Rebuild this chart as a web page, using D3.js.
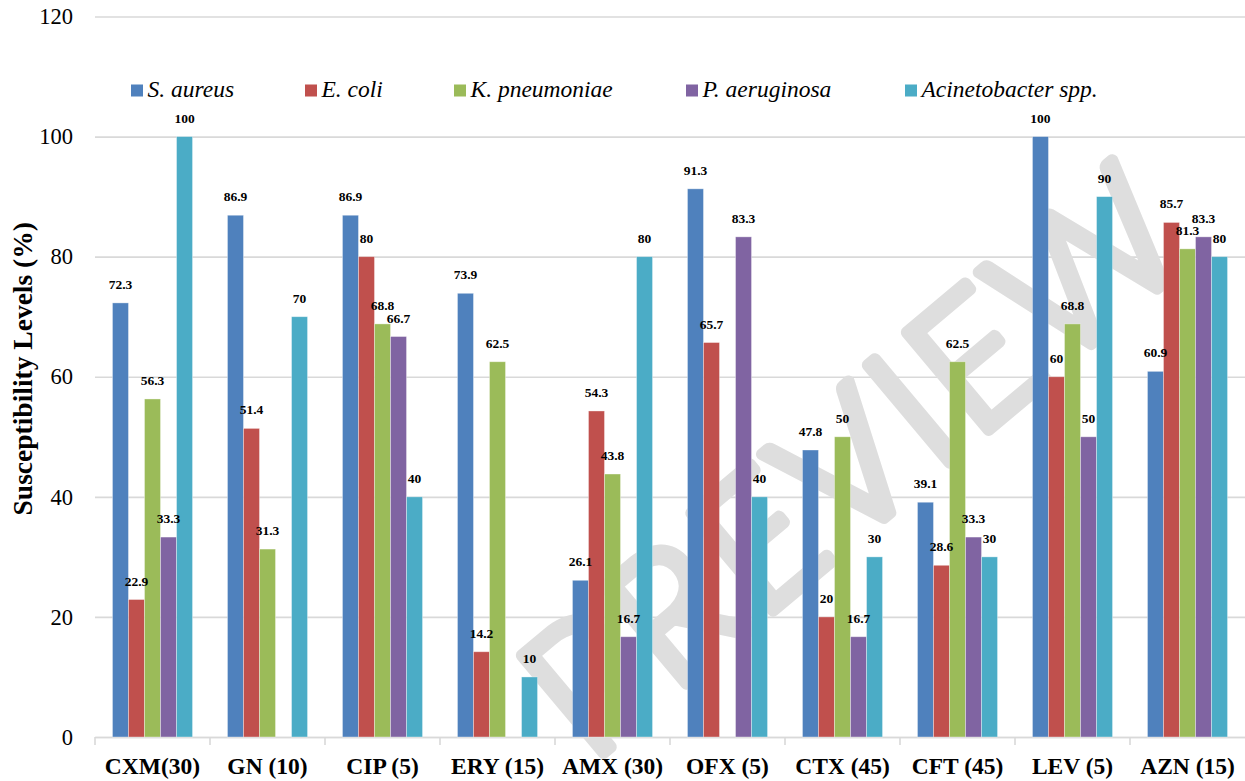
<!DOCTYPE html>
<html>
<head>
<meta charset="utf-8">
<script src="https://cdn.jsdelivr.net/npm/d3@7"></script>
<style>
  html, body { margin: 0; padding: 0; background: #ffffff; }
  svg { display: block; }
</style>
</head>
<body>
<svg id="chart" width="1245" height="781"></svg>
<script>
// Antibiotic discs (potency in µg) along the x axis
const categories = ["CXM(30)", "GN (10)", "CIP (5)", "ERY (15)", "AMX (30)",
                    "OFX (5)", "CTX (45)", "CFT (45)", "LEV (5)", "AZN (15)"];

// Organisms (legend order)
const seriesNames = ["S. aureus", "E. coli", "K. pneumoniae", "P. aeruginosa", "Acinetobacter spp."];

// Susceptibility (%) per organism; null = not tested
const sAureus       = [72.3, 86.9, 86.9, 73.9, 26.1, 91.3, 47.8, 39.1, 100, 60.9];
const eColi         = [22.9, 51.4, 80, 14.2, 54.3, 65.7, 20, 28.6, 60, 85.7];
const kPneumoniae   = [56.3, 31.3, 68.8, 62.5, 43.8, null, 50, 62.5, 68.8, 81.3];
const pAeruginosa   = [33.3, null, 66.7, null, 16.7, 83.3, 16.7, 33.3, 50, 83.3];
const acinetobacter = [100, 70, 40, 10, 80, 40, 30, 30, 90, 80];

const yTicks = [0, 20, 40, 60, 80, 100, 120];

const seriesValues = [sAureus, eColi, kPneumoniae, pAeruginosa, acinetobacter];
const colors = ["#4F81BD", "#C0504D", "#9BBB59", "#8064A2", "#4BACC6"];

const svg = d3.select("#chart");
const plotLeft = 95, plotRight = 1245, plotTop = 16.5, plotBottom = 737;

const x = d3.scaleBand().domain(categories).range([plotLeft, plotRight]).paddingInner(0).paddingOuter(0);
const xInner = d3.scaleBand().domain(seriesNames).range([0, x.bandwidth()])
  .paddingInner(0).paddingOuter(1.09);
const y = d3.scaleLinear().domain([0, 120]).range([plotBottom, plotTop]);
const color = d3.scaleOrdinal().domain(seriesNames).range(colors);

const serif = "'Liberation Serif', 'Times New Roman', Times, serif";

// Horizontal gridlines
const grid = svg.append("g")
  .attr("transform", `translate(${plotLeft},0)`)
  .call(d3.axisLeft(y).tickValues(yTicks).tickSize(-(plotRight - plotLeft)).tickFormat(""));
grid.select(".domain").remove();
grid.selectAll("line").attr("stroke", "#d9d9d9").attr("stroke-width", 1.6);

// Faint diagonal watermark lettering behind the bars
svg.append("text")
  .attr("transform", "translate(850,455) rotate(-40)")
  .attr("text-anchor", "middle")
  .attr("dominant-baseline", "central")
  .attr("font-family", "Lato, 'Open Sans', 'DejaVu Sans', sans-serif")
  .attr("font-weight", 300)
  .attr("font-size", 180)
  .attr("letter-spacing", 4)
  .attr("fill", "#dedede")
  .attr("stroke", "#dedede")
  .attr("stroke-width", 12)
  .attr("stroke-linejoin", "round")
  .text("PREVIEW");

// Y axis tick labels
const yAxis = svg.append("g")
  .attr("transform", `translate(${plotLeft},0)`)
  .call(d3.axisLeft(y).tickValues(yTicks).tickSize(0).tickPadding(22));
yAxis.select(".domain").remove();
yAxis.selectAll("text")
  .attr("font-family", serif)
  .attr("font-size", 22.5)
  .attr("fill", "#000");

// X axis: category labels and separator ticks
const xAxis = svg.append("g")
  .attr("transform", `translate(0,${plotBottom})`)
  .call(d3.axisBottom(x).tickSize(0).tickPadding(20));
xAxis.select(".domain").attr("stroke", "#d9d9d9").attr("stroke-width", 1.6);
xAxis.selectAll("text")
  .attr("font-family", serif)
  .attr("font-weight", "bold")
  .attr("font-size", 23.5)
  .attr("fill", "#000");

const boundaries = categories.map(c => x(c));
svg.append("g").selectAll("line")
  .data(boundaries)
  .join("line")
  .attr("x1", d => d).attr("x2", d => d)
  .attr("y1", plotBottom).attr("y2", plotBottom + 8)
  .attr("stroke", "#d9d9d9").attr("stroke-width", 1.6);

// Y axis title
svg.append("text")
  .attr("transform", `translate(32,${(plotTop + plotBottom) / 2 - 8}) rotate(-90)`)
  .attr("text-anchor", "middle")
  .attr("font-family", serif)
  .attr("font-weight", "bold")
  .attr("font-size", 27.5)
  .attr("fill", "#000")
  .text("Susceptibility Levels (%)");

// Bars
const rows = [];
categories.forEach((c, i) => {
  seriesNames.forEach((s, j) => {
    const v = seriesValues[j][i];
    if (v !== null && v !== undefined) rows.push({ cat: c, series: s, value: v });
  });
});

svg.append("g").selectAll("rect")
  .data(rows)
  .join("rect")
  .attr("x", d => x(d.cat) + xInner(d.series))
  .attr("width", xInner.bandwidth())
  .attr("y", d => y(d.value))
  .attr("height", d => y(0) - y(d.value))
  .attr("fill", d => color(d.series))
  .attr("stroke", "rgba(255,255,255,0.45)")
  .attr("stroke-width", 0.8);

// Value labels above each bar
svg.append("g").selectAll("text")
  .data(rows)
  .join("text")
  .attr("x", d => x(d.cat) + xInner(d.series) + xInner.bandwidth() / 2)
  .attr("y", d => y(d.value) - 14)
  .attr("text-anchor", "middle")
  .attr("font-family", serif)
  .attr("font-weight", "bold")
  .attr("font-size", 13.5)
  .attr("fill", "#000")
  .text(d => d3.format("")(d.value));

// Legend
const legendX = [131, 305, 454, 686, 905];
const legend = svg.append("g").selectAll("g")
  .data(seriesNames)
  .join("g")
  .attr("transform", (d, i) => `translate(${legendX[i]},0)`);
legend.append("rect")
  .attr("x", 0).attr("y", 84.5)
  .attr("width", 12).attr("height", 12)
  .attr("fill", d => color(d));
legend.append("text")
  .attr("x", 16.5).attr("y", 97)
  .attr("font-family", serif)
  .attr("font-style", "italic")
  .attr("font-size", 23.5)
  .attr("fill", "#000")
  .text(d => d);
</script>
</body>
</html>
